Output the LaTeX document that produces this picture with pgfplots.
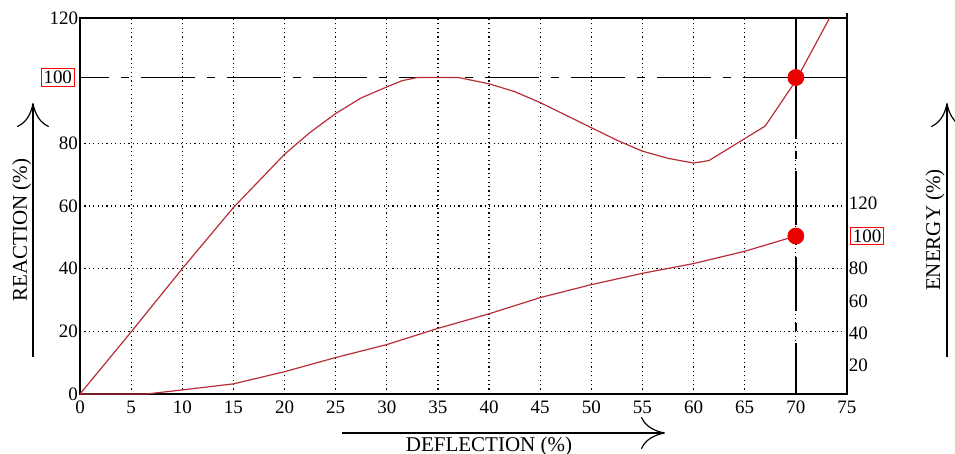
\documentclass[border=0pt]{standalone}
\usepackage{fontspec}
\setmainfont{Liberation Serif}
\newfontfamily\chartfont{Liberation Serif}
\usepackage{pgfplots}
\pgfplotsset{compat=1.18}
\usetikzlibrary{arrows.meta}
\definecolor{curve}{RGB}{185,45,55}
\definecolor{dotred}{RGB}{235,0,0}

\begin{document}
\begin{tikzpicture}[x=1pt,y=1pt, font=\chartfont]
\path[use as bounding box] (-40,-30) rectangle (437.5,197);
\begin{axis}[
  scale only axis, width=383.5pt, height=188pt,
  at={(0,0)}, anchor=south west,
  xmin=0, xmax=75, ymin=0, ymax=120,
  xtick={0,5,...,75}, ytick={0,20,40,60,80,120},
  major tick length=0pt,
  xmajorgrids, ymajorgrids,
  grid style={black, line width=0.6pt, dash pattern=on 0.6pt off 1.6pt},
  tick label style={font=\chartfont\fontsize{9.5}{11}\selectfont},
  /pgf/number format/assume math mode=true,
  yticklabel style={inner sep=0.8pt},
  axis line style={black, line width=0.7pt},
  clip=false,
]
% reference lines at 100 %
\addplot[black, line width=0.75pt, dash pattern=on 27pt off 6pt on 4pt off 6pt, dash phase=12.5pt] coordinates {(0,101) (75,101)};
\addplot[black, line width=0.75pt] coordinates {(66,101) (75,101)};
\addplot[black, line width=0.75pt, dash pattern=on 27pt off 6pt on 4pt off 6pt, dash phase=1.5pt] coordinates {(70,0) (70,120)};
\addplot[black, line width=0.75pt] coordinates {(70,83) (70,120)};

% reaction
\addplot[curve, line width=0.6pt] coordinates {
(0,0) (5,19.8) (10,40) (15,59.5) (20,76.5) (22.5,83.5) (25,89.5) (27.5,94.5)
(30,98) (31.5,100) (33,101) (37,101) (40,99) (42.5,96.5) (45,93) (47.5,89)
(50,85) (52.5,81) (55,77.5) (57.5,75.2) (60,73.7) (61.5,74.5) (65,81.5)
(67,85.5) (70,100) (73.3,120)};
\addplot[only marks, mark=*, mark size=4pt, mark options={draw=dotred, fill=dotred}] coordinates {(70,101)};

\node[draw=red, line width=0.6pt, inner sep=1.2pt, anchor=east, xshift=-2.5pt,
  font=\chartfont\fontsize{9.5}{11}\selectfont] at (axis cs:0,101) {100};
\end{axis}

\begin{axis}[
  scale only axis, width=383.5pt, height=188pt,
  at={(0,0)}, anchor=south west,
  xmin=0, xmax=75, ymin=2.5, ymax=237.5,
  axis x line=none, axis y line*=right,
  ytick={20,40,60,80,120},
  major tick length=0pt,
  tick label style={font=\chartfont\fontsize{9.5}{11}\selectfont},
  /pgf/number format/assume math mode=true,
  yticklabel style={inner sep=0.8pt},
  axis line style={black, line width=0.7pt},
  clip=false,
]
% energy
\addplot[curve, line width=0.6pt] coordinates {
(0,2.5) (6.5,2.5) (10,5) (15,8.75) (20,16.25) (25,25) (30,33) (35,43)
(40,52) (45,62) (50,70) (55,77) (60,83) (65,90.6) (70,100)};
\addplot[only marks, mark=*, mark size=4pt, mark options={draw=dotred, fill=dotred}] coordinates {(70,100)};

\node[draw=red, line width=0.6pt, inner sep=1.2pt, anchor=west, xshift=1.5pt,
  font=\chartfont\fontsize{9.5}{11}\selectfont] at (axis cs:75,100) {100};
\end{axis}

% axis titles with arrows
\draw[line width=0.6pt, -{To[length=12pt,width=16pt]}] (-23.5,18.5) -- (-23.5,145.5);
\node[rotate=90, anchor=base, inner sep=0pt, font=\chartfont\fontsize{10.5}{12}\selectfont] at (-26.5,82) {REACTION (\%)};
\draw[line width=0.6pt, -{To[length=12pt,width=16pt]}] (433.5,18.5) -- (433.5,145.5);
\node[rotate=90, anchor=base, inner sep=0pt, font=\chartfont\fontsize{10.5}{12}\selectfont] at (430,82) {ENERGY (\%)};
\draw[line width=0.6pt, -{To[length=12pt,width=16pt]}] (131,-19.5) -- (292.5,-19.5);
\node[anchor=base, inner sep=0pt, font=\chartfont\fontsize{10.5}{12}\selectfont] at (204.5,-29) {DEFLECTION (\%)};
\end{tikzpicture}
\end{document}
